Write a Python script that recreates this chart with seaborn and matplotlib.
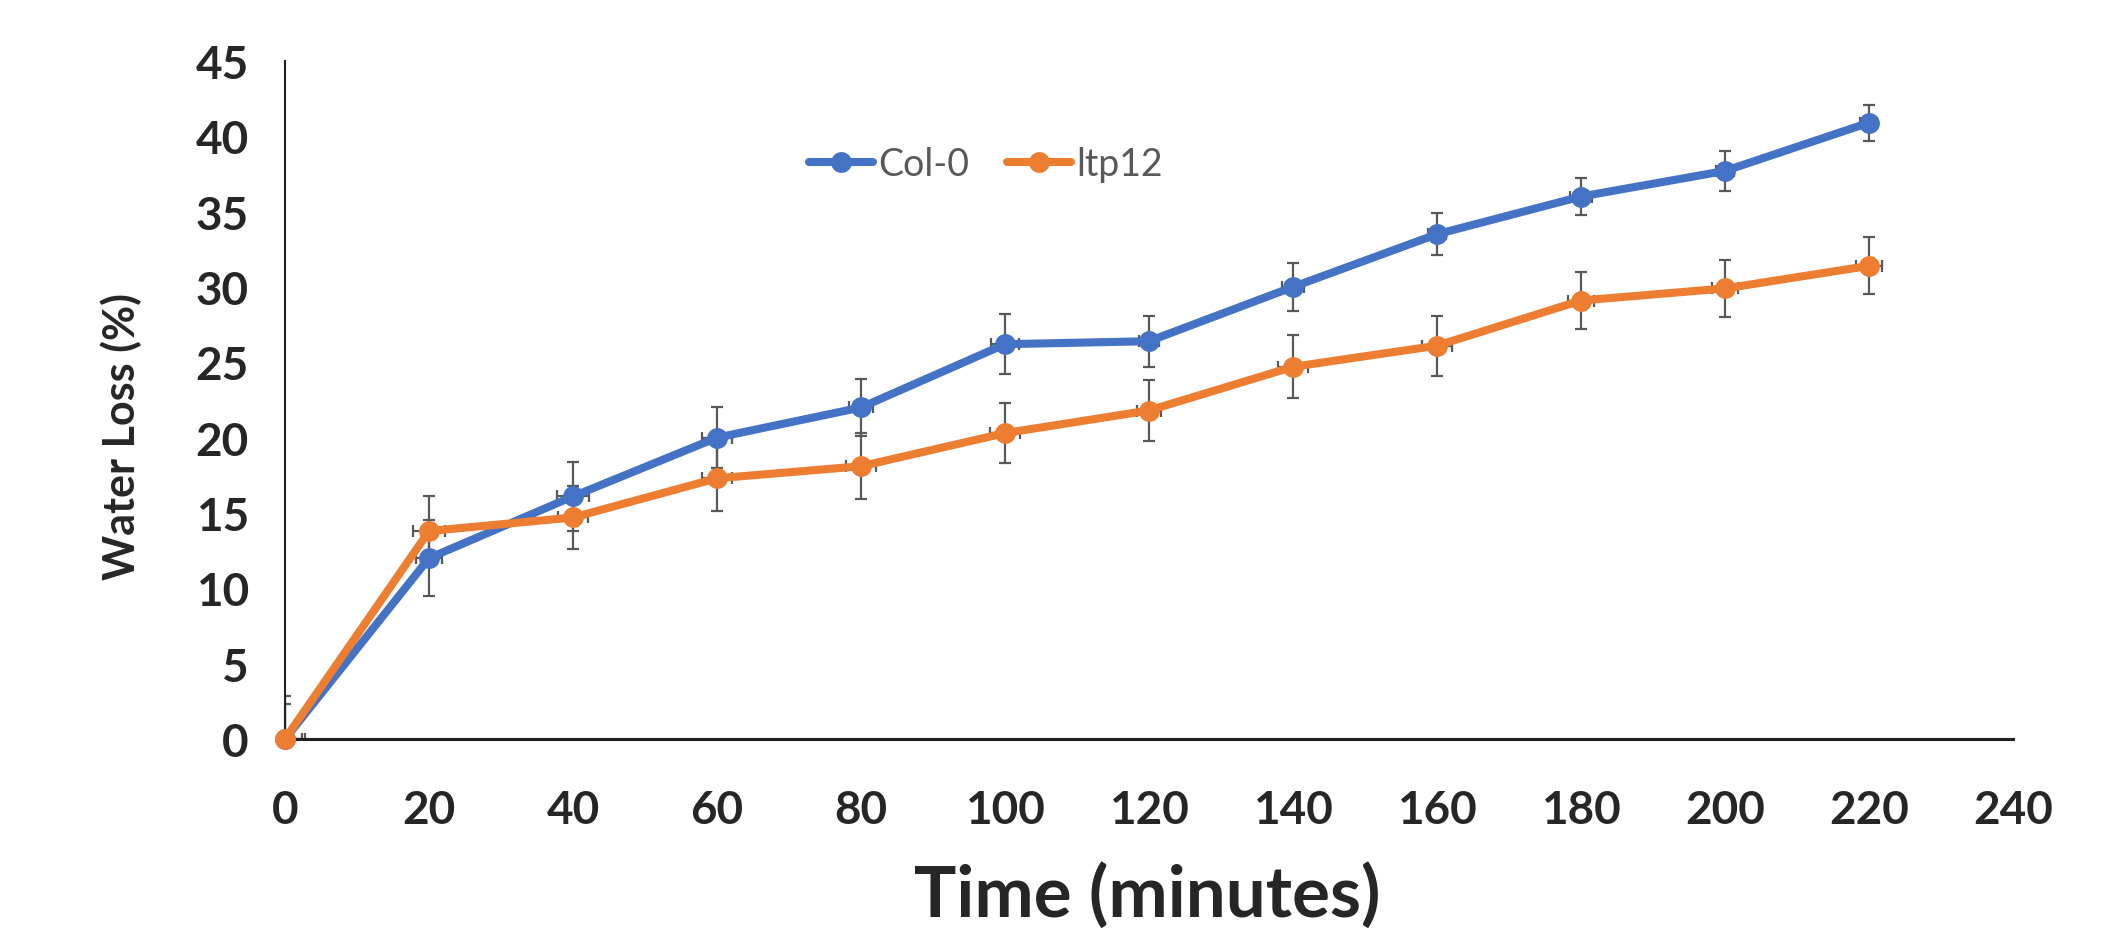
import numpy as np
import pandas as pd
import seaborn as sns
import matplotlib.pyplot as plt

# Water loss over time for two genotypes
minutes = [0, 20, 40, 60, 80, 100, 120, 140, 160, 180, 200, 220]
col0 = [0, 12.0, 16.1, 20.0, 22.0, 26.2, 26.4, 30.0, 33.5, 36.0, 37.7, 40.9]
col0_err = [2.85, 2.5, 2.3, 2.0, 1.9, 2.0, 1.7, 1.6, 1.4, 1.2, 1.3, 1.2]
col0_xerr = [2.8, 1.8, 2.2, 2.1, 1.7, 2.0, 1.4, 1.5, 1.2, 1.5, 1.2, 1.2]
ltp12 = [0, 13.8, 14.7, 17.3, 18.1, 20.3, 21.8, 24.7, 26.1, 29.1, 29.9, 31.4]
ltp12_err = [2.3, 2.3, 2.1, 2.2, 2.2, 2.0, 2.0, 2.1, 2.0, 1.9, 1.9, 1.9]
ltp12_xerr = [2.3, 2.2, 2.1, 2.1, 2.1, 2.1, 1.7, 2.1, 2.1, 1.8, 1.8, 1.85]

labels = ['Col-0', 'ltp12']
colors = ['#4472C4', '#ED7D31']

df = pd.DataFrame({
    'Time': minutes * 2,
    'Loss': col0 + ltp12,
    'Line': [labels[0]] * len(minutes) + [labels[1]] * len(minutes),
})

sns.set_style('white')
plt.rcParams['font.family'] = ['Lato', 'DejaVu Sans']

fig, ax = plt.subplots(figsize=(21.21, 9.29), dpi=100)
fig.subplots_adjust(left=0.1344, right=0.949, bottom=0.2035, top=0.9333)

# error bars sit underneath the lines and markers
for y, ye, xe in [(col0, col0_err, col0_xerr), (ltp12, ltp12_err, ltp12_xerr)]:
    ax.errorbar(minutes, y, yerr=ye, xerr=xe, fmt='none', ecolor='#595959',
                elinewidth=1.6, capsize=4.5, capthick=1.6, zorder=1)

for name, c in zip(labels, colors):
    sub = df[df['Line'] == name]
    sns.lineplot(data=sub, x='Time', y='Loss', color=c, linewidth=5.8,
                 marker='o', markersize=15, markeredgewidth=0, label=name,
                 ax=ax, zorder=3, clip_on=False)

ax.set_xlim(0, 240)
ax.set_ylim(0, 45)
ax.set_xticks(range(0, 241, 20))
ax.set_yticks(range(0, 46, 5))
ax.tick_params(axis='both', length=0, labelsize=33)
ax.tick_params(axis='x', pad=36)
ax.tick_params(axis='y', pad=26)
for lab in ax.get_xticklabels() + ax.get_yticklabels():
    lab.set_fontweight('bold')

for s in ['top', 'right']:
    ax.spines[s].set_visible(False)
ax.spines['left'].set_color('#202020')
ax.spines['left'].set_linewidth(1.5)
ax.spines['bottom'].set_color('#202020')
ax.spines['bottom'].set_linewidth(2.2)

ax.set_xlabel('Time (minutes)', fontsize=51, fontweight='bold')
ax.xaxis.set_label_coords(0.499, -0.18)
ax.set_ylabel('Water Loss (%)', fontsize=31, fontweight='bold')
ax.yaxis.set_label_coords(-0.083, 0.447)

ax.legend(loc='center', bbox_to_anchor=(0.465, 0.822),
          bbox_transform=fig.transFigure, ncol=2, frameon=False,
          fontsize=27, labelcolor='#595959', handlelength=1.7,
          handletextpad=0.15, columnspacing=1.0)

plt.savefig('out.png', dpi=100)
plt.close()
